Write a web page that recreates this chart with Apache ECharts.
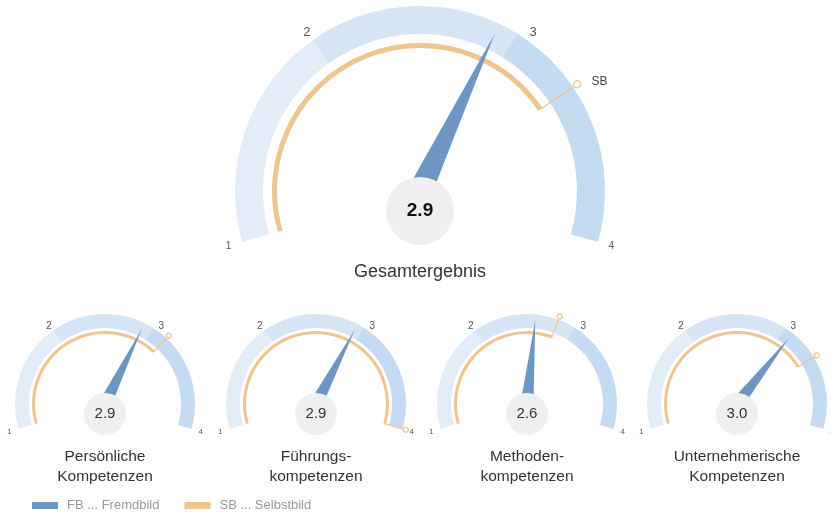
<!DOCTYPE html>
<html><head><meta charset="utf-8">
<script src="https://cdn.jsdelivr.net/npm/echarts@6/dist/echarts.min.js"></script>
<style>html,body{margin:0;padding:0;background:#fff}#c{width:831px;height:512px}</style>
</head><body><div id="c"></div>
<script>
// ---- data ----
const categories = ['Gesamtergebnis', 'Persönliche\nKompetenzen', 'Führungs-\nkompetenzen', 'Methoden-\nkompetenzen', 'Unternehmerische\nKompetenzen'];
const fbValues = [2.86, 2.87, 2.89, 2.58, 3.04];   // Fremdbild (needle)
const sbValues = [3.29, 3.11, 4.0, 2.79, 3.33];    // Selbstbild (orange arc)
const scaleTicks = [1, 2, 3, 4];
const zoneBreaks = [2, 2.95];
const sbText = 'SB';
const legendNames = ['FB ... Fremdbild', 'SB ... Selbstbild'];

// ---- style ----
const FONT = '"Liberation Sans", Arial, Helvetica, sans-serif';
const COL = { fb: '#6e96c2', sb: '#efc48f', zones: ['#e3edf8', '#d6e5f5', '#c5dbf1'], circle: '#efefef' };
const START = 196, END = -16;
const minV = scaleTicks[0], maxV = scaleTicks[scaleTicks.length - 1];

const big = { cx: 420, cy: 191, R: 185, band: 28, sbR: 148, sbW: 5, ringR: 3.5, markR: 190, needleL: 174, needleW: 24,
  circ: 68, dy: 20, labDist: -17, labBig: 13, labSmall: 10, valSize: 19, valWeight: 'bold', valColor: '#111',
  titleSize: 18, titleDy: 81, titleLH: 20 };
const smallCx = [105, 316, 527, 737];
const layouts = [big].concat(smallCx.map(cx => ({ cx, cy: 404, R: 90, band: 14, sbR: 73, sbW: 3, ringR: 2.5, markR: 93.5,
  needleL: 84, needleW: 13, circ: 42, dy: 10, labDist: -12, labBig: 10, labSmall: 8, valSize: 15, valWeight: 'normal',
  valColor: '#333', titleSize: 15.5, titleDy: 63, titleLH: 20 })));

const span = maxV - minV;
const zoneStops = [
  [(zoneBreaks[0] - minV) / span, COL.zones[0]],
  [(zoneBreaks[1] - minV) / span, COL.zones[1]],
  [1, COL.zones[2]]
];

function ringPath(rr, len) {
  const c = rr + 0.5;
  return 'path://M' + c + ' ' + (c + len) + 'L' + c + ' ' + (c + rr) +
    'M' + (c + rr) + ' ' + c + 'A' + rr + ' ' + rr + ' 0 1 1 ' + (c - rr) + ' ' + c +
    'A' + rr + ' ' + rr + ' 0 1 1 ' + (c + rr) + ' ' + c + 'Z';
}

function base(L, extra) {
  return Object.assign({
    type: 'gauge', center: [L.cx, L.cy], radius: L.R, startAngle: START, endAngle: END,
    min: minV, max: maxV, splitNumber: scaleTicks.length - 1, animation: false, silent: true,
    axisLine: { show: false }, axisTick: { show: false }, splitLine: { show: false, length: 0, distance: 0 },
    axisLabel: { show: false }, pointer: { show: false }, anchor: { show: false },
    progress: { show: false }, detail: { show: false }, title: { show: false }
  }, extra);
}

const series = [];
layouts.forEach((L, i) => {
  // scale band
  series.push(base(L, {
    name: 'Skala', z: 1,
    axisLine: { show: true, lineStyle: { width: L.band, color: zoneStops } },
    axisLabel: {
      show: true, distance: L.labDist, color: '#555', fontFamily: FONT,
      formatter: v => (v === minV || v === maxV) ? '{s|' + v + '}' : '{b|' + v + '}',
      rich: { s: { fontSize: L.labSmall, color: '#555', fontFamily: FONT }, b: { fontSize: L.labBig, color: '#555', fontFamily: FONT } }
    },
    data: [{ value: minV }]
  }));
  // Selbstbild arc + marker
  const oc = L.sbR - L.sbW / 2;
  const len = L.markR - oc;
  const sb = sbValues[i];
  const sbSeries = base(L, {
    name: legendNames[1], z: 2, radius: L.sbR,
    progress: { show: true, width: L.sbW, roundCap: false, itemStyle: { color: COL.sb } },
    pointer: {
      show: true, icon: ringPath(L.ringR, len), width: 2 * L.ringR, length: len + L.ringR,
      offsetCenter: [0, -oc], keepAspect: false,
      itemStyle: { color: 'rgba(0,0,0,0)', borderColor: COL.sb, borderWidth: 1.2 }
    },
    data: [{ value: sb }]
  });
  if (i === 0) {
    sbSeries.splitNumber = 300;
    sbSeries.axisLabel = {
      show: true, distance: L.sbR - 226.5, color: '#444', fontSize: 12, lineHeight: 18, fontFamily: FONT,
      formatter: v => Math.abs(v - sb) < 0.005 ? '\n\n' + sbText : ''
    };
  }
  series.push(sbSeries);
  // Fremdbild needle
  series.push(base(L, {
    name: legendNames[0], z: 3,
    pointer: { show: true, icon: 'triangle', width: L.needleW, length: L.needleL, offsetCenter: [0, 0], keepAspect: false,
      itemStyle: { color: COL.fb } },
    data: [{ value: fbValues[i] }]
  }));
  // value circle + title
  series.push(base(L, {
    name: 'Wert', z: 4,
    detail: {
      show: true, offsetCenter: [0, L.dy], width: L.circ, height: L.circ, lineHeight: L.circ, padding: 0,
      borderRadius: L.circ / 2, backgroundColor: COL.circle, fontSize: L.valSize, fontWeight: L.valWeight,
      color: L.valColor, fontFamily: FONT, valueAnimation: false, formatter: v => v.toFixed(1)
    },
    title: { show: true, offsetCenter: [0, L.titleDy], fontSize: L.titleSize, lineHeight: L.titleLH, color: '#333', fontFamily: FONT },
    data: [{ value: fbValues[i], name: categories[i] }]
  }));
});

const chart = echarts.init(document.getElementById('c'), null, { renderer: 'canvas' });
chart.setOption({
  backgroundColor: '#ffffff',
  animation: false,
  legend: {
    left: 32, top: 499, padding: 0, itemWidth: 26, itemHeight: 7, itemGap: 25, icon: 'rect', selectedMode: false,
    textStyle: { color: '#999', fontSize: 13, fontFamily: FONT, padding: [0, 0, 0, 4] },
    data: [{ name: legendNames[0], itemStyle: { color: COL.fb } }, { name: legendNames[1], itemStyle: { color: COL.sb } }]
  },
  series
});
</script>
</body></html>
